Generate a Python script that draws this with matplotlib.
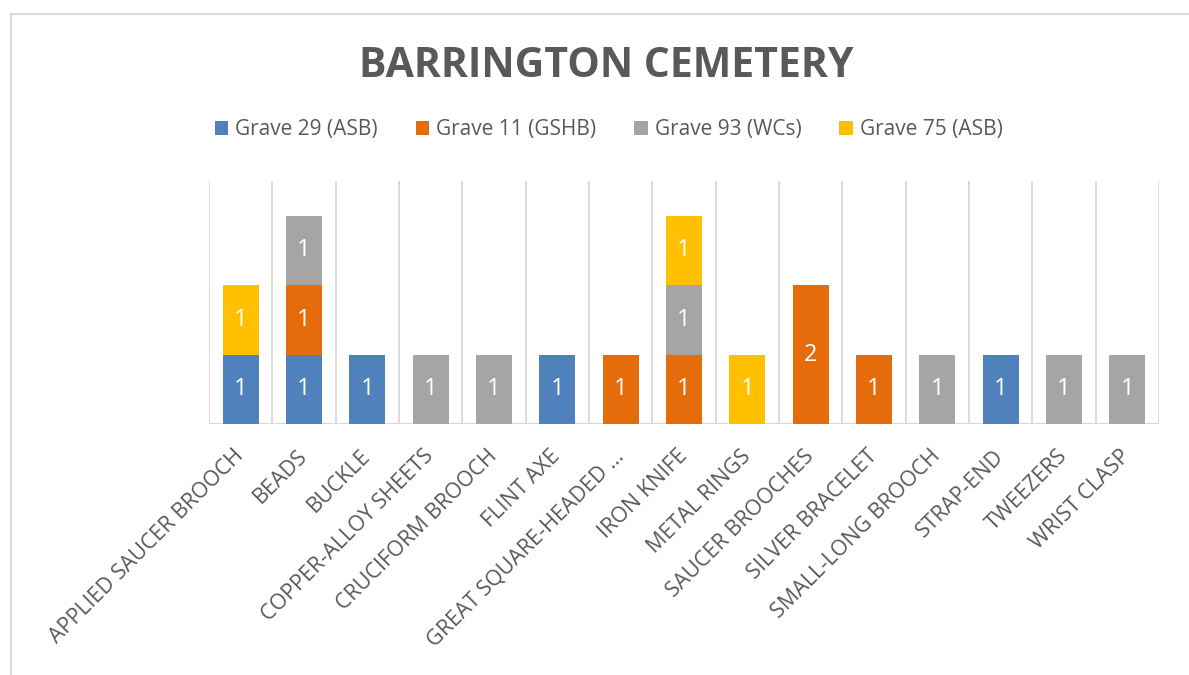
import matplotlib
matplotlib.use("Agg")
import matplotlib.pyplot as plt
from matplotlib.lines import Line2D
import numpy as np

categories = ["APPLIED SAUCER BROOCH", "BEADS", "BUCKLE", "COPPER-ALLOY SHEETS",
              "CRUCIFORM BROOCH", "FLINT AXE", "GREAT SQUARE-HEADED …", "IRON KNIFE",
              "METAL RINGS", "SAUCER BROOCHES", "SILVER BRACELET", "SMALL-LONG BROOCH",
              "STRAP-END", "TWEEZERS", "WRIST CLASP"]
series_names = ["Grave 29 (ASB)", "Grave 11 (GSHB)", "Grave 93 (WCs)", "Grave 75 (ASB)"]
grave29 = [1, 1, 1, 0, 0, 1, 0, 0, 0, 0, 0, 0, 1, 0, 0]
grave11 = [0, 1, 0, 0, 0, 0, 1, 1, 0, 2, 1, 0, 0, 0, 0]
grave93 = [0, 1, 0, 1, 1, 0, 0, 1, 0, 0, 0, 1, 0, 1, 1]
grave75 = [1, 0, 0, 0, 0, 0, 0, 1, 1, 0, 0, 0, 0, 0, 0]
colors = ["#4F81BD", "#E46C0A", "#A5A5A5", "#FFC000"]

plt.rcParams["font.family"] = ["Open Sans", "DejaVu Sans"]
text_col = "#595959"
grid_col = "#D9D9D9"

fig = plt.figure(figsize=(11.89, 6.75), dpi=100)
ax = fig.add_axes([209 / 1189, 1 - 424 / 675, 950 / 1189, 243 / 675])

x = np.arange(len(categories))
bottom = np.zeros(len(categories))
handles = []
for name, vals, col in zip(series_names, [grave29, grave11, grave93, grave75], colors):
    vals = np.array(vals, dtype=float)
    bars = ax.bar(x, vals, 0.57, bottom=bottom, color=col, label=name, zorder=3)
    for xi, v, b in zip(x, vals, bottom):
        if v > 0:
            ax.text(xi, b + v / 2, "%d" % v, ha="center", va="center",
                    color="white", fontsize=17, zorder=4)
    bottom += vals
    handles.append(bars)

ax.set_xlim(-0.5, len(categories) - 0.5)
ax.set_ylim(0, 3.5)
for b in np.arange(-0.5, len(categories), 1.0):
    ax.axvline(b, color=grid_col, lw=1.3, zorder=1)
ax.axhline(0, color=grid_col, lw=1.6, zorder=2)
for s in ax.spines.values():
    s.set_visible(False)
ax.set_yticks([])
ax.set_xticks(x)
ax.set_xticklabels(categories, rotation=45, ha="right", va="center",
                   rotation_mode="anchor", fontsize=15.5, color=text_col)
ax.tick_params(axis="x", length=0, pad=21)

fig.text(0.51, 0.902, "BARRINGTON CEMETERY", ha="center", va="center",
         fontsize=29.5, fontweight="bold", color=text_col)
fig.legend(handles=handles, labels=series_names, loc="center", ncol=4,
           bbox_to_anchor=(0.512, 0.808), frameon=False, fontsize=15,
           labelcolor=text_col, handlelength=0.65, handleheight=0.65,
           handletextpad=0.35, columnspacing=1.8)

# chart border (left and top edges visible)
fig.add_artist(Line2D([11 / 1189, 11 / 1189], [0, 1 - 14 / 675],
                      transform=fig.transFigure, color=grid_col, lw=1.5))
fig.add_artist(Line2D([11 / 1189, 1], [1 - 14 / 675, 1 - 14 / 675],
                      transform=fig.transFigure, color=grid_col, lw=1.5))

fig.savefig("out.png", dpi=100)
